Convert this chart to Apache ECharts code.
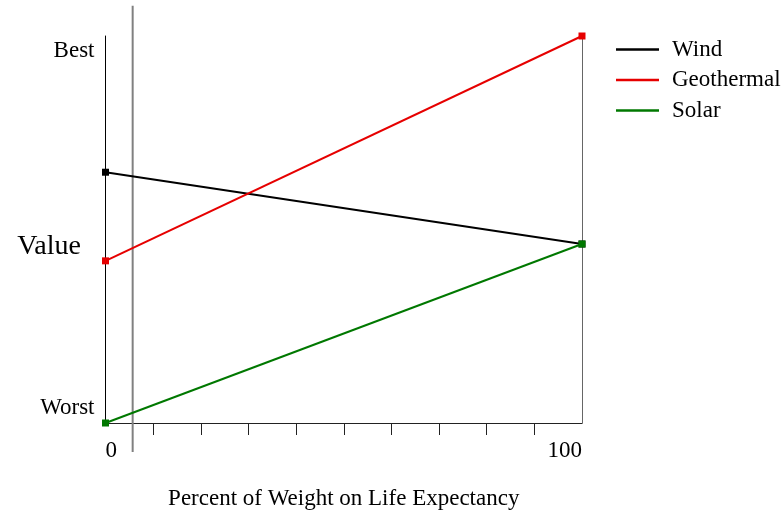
<!DOCTYPE html>
<html>
<head>
<meta charset="utf-8">
<script src="https://cdn.jsdelivr.net/npm/echarts@6/dist/echarts.min.js"></script>
<style>html,body{margin:0;padding:0;background:#fff}#c{width:782px;height:514px}</style>
</head>
<body>
<div id="c"></div>
<script>
// Data
var weights = [0, 100];
var wind = [0.648, 0.4625];
var geothermal = [0.419, 1.0];
var solar = [0.0, 0.4625];
var seriesNames = ['Wind', 'Geothermal', 'Solar'];
var xTickValues = [10, 20, 30, 40, 50, 60, 70, 80, 90];
var xLabelValues = [0, 100];
var yLabelValues = [0, 1];
var yLabelText = {0: 'Worst', 1: 'Best'};
var currentWeight = 5.7;
var refLineExtent = [-0.075, 1.078];

var FONT = 'Liberation Serif';
var chart = echarts.init(document.getElementById('c'), null, {renderer: 'canvas'});

function pairs(vals) { return weights.map(function (w, i) { return [w, vals[i]]; }); }

var colors = ['#000000', '#e60000', '#007800'];
var seriesData = [wind, geothermal, solar];

var series = seriesNames.map(function (n, i) {
  return {
    name: n, type: 'line', data: pairs(seriesData[i]),
    symbol: 'rect', symbolSize: 7, showSymbol: true,
    lineStyle: {color: colors[i], width: 2},
    itemStyle: {color: colors[i]},
    z: 3 + i, animation: false, silent: true
  };
});
series.unshift({
  name: 'ref', type: 'line', data: refLineExtent.map(function (v) { return [currentWeight, v]; }),
  symbol: 'none', clip: false, lineStyle: {color: '#808080', width: 2},
  z: 1, animation: false, silent: true
});

chart.setOption({
  animation: false,
  grid: {left: 105.5, right: 200, top: 36, bottom: 91, containLabel: false, outerBoundsMode: 'none'},
  legend: {
    data: seriesNames, orient: 'vertical', left: 611, top: 33,
    icon: 'rect', itemWidth: 43, itemHeight: 2.5, itemGap: 7.5,
    textStyle: {fontFamily: FONT, fontSize: 23, color: '#000', lineHeight: 22, padding: [0, 0, 0, 8]},
    selectedMode: false
  },
  xAxis: {
    type: 'value', min: 0, max: 100, interval: 10,
    name: 'Percent of Weight on Life Expectancy', nameLocation: 'middle', nameGap: 64, nameMoveOverlap: false,
    nameTextStyle: {fontFamily: FONT, fontSize: 23, color: '#000'},
    axisLine: {show: true, lineStyle: {color: '#222', width: 1}},
    axisTick: {show: true, customValues: xTickValues, length: 12, lineStyle: {color: '#222', width: 1}},
    axisLabel: {customValues: xLabelValues, margin: 16, fontFamily: FONT, fontSize: 23, color: '#000',
      alignMinLabel: 'left', alignMaxLabel: 'right'},
    splitLine: {show: false}
  },
  yAxis: [{
    type: 'value', min: 0, max: 1, interval: 1,
    name: 'Value', nameLocation: 'middle', nameRotate: 0, nameGap: 24.5, nameMoveOverlap: false,
    nameTextStyle: {fontFamily: FONT, fontSize: 28, color: '#000', align: 'right', verticalAlign: 'top', lineHeight: 28, padding: [3, 0, 0, 0]},
    axisLine: {show: true, lineStyle: {color: '#000', width: 1}},
    axisTick: {show: false},
    axisLabel: {customValues: yLabelValues, margin: 11, fontFamily: FONT, fontSize: 23, color: '#000', lineHeight: 30,
      verticalAlignMinLabel: 'bottom', verticalAlignMaxLabel: 'top',
      formatter: function (v) { return yLabelText[v] || ''; }},
    splitLine: {show: false}
  }, {
    type: 'value', min: 0, max: 1, position: 'right',
    axisLine: {show: true, lineStyle: {color: '#666', width: 1}},
    axisTick: {show: false}, axisLabel: {show: false}, splitLine: {show: false}
  }],
  series: series
});
</script>
</body>
</html>
